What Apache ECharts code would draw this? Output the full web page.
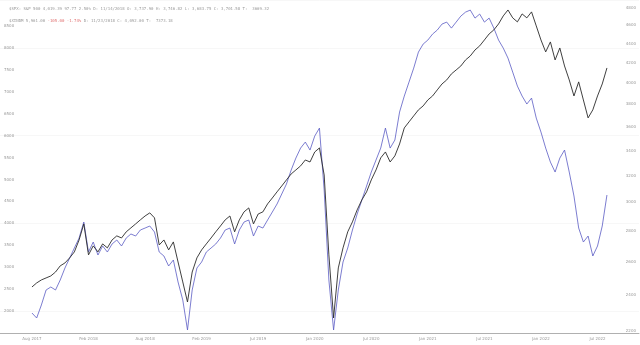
<!DOCTYPE html>
<html>
<head>
<meta charset="utf-8">
<script src="https://cdn.jsdelivr.net/npm/echarts@6/dist/echarts.min.js"></script>
<style>html,body{margin:0;padding:0;background:#fff}#c{width:640px;height:345px}</style>
</head>
<body>
<div id="c"></div>
<script>
// x-axis tick labels (every 6 units of the period index)
const xLabels = ['Aug 2017','Feb 2018','Aug 2018','Feb 2019','Jul 2019','Jan 2020','Jul 2020','Jan 2021','Jul 2021','Jan 2022','Jul 2022'];
const xLabelStep = 6;
const pointStep = 0.5; // half-month sampling
// left (linear) axis tick labels
const leftTicks = [2000,2500,3000,3500,4000,4500,5000,5500,6000,6500,7000,7500,8000,8500];
// right (log) axis tick labels
const rightTicks = [2200,2400,2600,2800,3000,3200,3400,3600,3800,4000,4200,4400,4600,4800];

// $SPX (black, right log axis)
const spx = [2446,2470,2488,2500,2512,2536,2574,2592,2624,2662,2740,2848,2643,2701,2662,2714,2688,2740,2767,2753,2794,2821,2848,2876,2903,2925,2890,2707,2740,2675,2727,2598,2476,2359,2536,2624,2675,2714,2753,2794,2834,2876,2903,2794,2876,2932,2960,2848,2917,2932,2989,3032,3077,3121,3167,3213,3244,3276,3323,3307,3388,3421,3205,2643,2270,2561,2688,2794,2862,2946,3018,3077,3167,3244,3340,3388,3307,3356,3454,3590,3643,3696,3750,3786,3841,3878,3935,3992,4031,4090,4129,4169,4230,4271,4333,4376,4439,4504,4548,4614,4704,4772,4682,4637,4727,4682,4750,4592,4439,4313,4418,4230,4354,4169,4031,3878,4012,3841,3678,3750,3878,3992,4149];
// $XINDM (blue, left linear axis)
const xindm = [1954,1840,2137,2479,2547,2479,2707,2980,3208,3436,3664,4029,3345,3573,3277,3482,3345,3528,3619,3482,3664,3756,3710,3847,3892,3938,3801,3345,3254,3026,3163,2661,2251,1567,2479,2980,3117,3345,3436,3528,3664,3847,3892,3528,3847,4029,4075,3710,3938,3892,4075,4257,4440,4668,4896,5215,5488,5716,5853,5671,5990,6172,4759,2707,1567,2479,3117,3436,3847,4212,4531,4850,5169,5443,5716,6172,5716,5899,6537,6902,7221,7540,7905,8088,8179,8316,8407,8544,8589,8452,8589,8726,8817,8863,8680,8772,8589,8680,8452,8179,7996,7768,7449,7130,6902,6720,6856,6400,6081,5716,5397,5169,5488,5671,5169,4622,3892,3573,3710,3254,3482,3938,4645];

const header1 = '$SPX: S&P 500 4,019.39 97.77 2.50% D: 11/14/2018 O: 3,737.90 H: 3,746.82 L: 3,683.75 C: 3,701.58 T:  3669.32';
const header2a = '$XINDM 5,961.00 ';
const header2b = '-105.00 -1.74%';
const header2c = ' D: 11/23/2018 C: 4,092.00 T:  7373.18';

const chart = echarts.init(document.getElementById('c'), null, {renderer:'canvas'});
const lbl = {fontSize:4, color:'#999', fontFamily:'DejaVu Sans'};
const hdr = {fontSize:4, fontFamily:'DejaVu Sans Mono'};
chart.setOption({
  animation:false,
  backgroundColor:'#fff',
  title:[{
    left:4, top:2,
    text: header1,
    textStyle:Object.assign({color:'#9a9a9a', fontWeight:'normal'}, hdr)
  },{
    left:4, top:14,
    text: '{a|'+header2a+'}{r|'+header2b+'}{a|'+header2c+'}',
    textStyle:Object.assign({fontWeight:'normal',
      rich:{a:Object.assign({color:'#9a9a9a'},hdr), r:Object.assign({color:'#e07070'},hdr)}}, hdr)
  }],
  grid:{left:0,right:1,top:0,bottom:12},
  xAxis:{
    type:'value', min:-3.39, max:64.4,
    axisLine:{show:true,lineStyle:{color:'#b0b0b0',width:1}},
    axisTick:{show:false},
    splitLine:{show:false},
    axisLabel:Object.assign({}, lbl, {margin:4,
      customValues: xLabels.map((_,i)=>i*xLabelStep),
      formatter:(v)=>xLabels[Math.round(v/xLabelStep)] || ''})
  },
  yAxis:[{
    type:'value', min:1498, max:9093, position:'left',
    axisLine:{show:false}, axisTick:{show:false},
    splitLine:{show:true,lineStyle:{color:'#f7f7f7',width:1}},
    axisLabel:Object.assign({}, lbl, {inside:true, margin:4, customValues:leftTicks, formatter:(v)=>String(Math.round(v))})
  },{
    type:'value', min:7.6912, max:8.4946, position:'right',
    axisLine:{show:false}, axisTick:{show:false}, splitLine:{show:false},
    axisLabel:Object.assign({}, lbl, {inside:true, margin:3,
      customValues:rightTicks.map(v=>Math.log(v)),
      formatter:(v)=>String(Math.round(Math.exp(v)/100)*100)})
  }],
  series:[{
    name:'$XINDM', type:'line', yAxisIndex:0, showSymbol:false,
    lineStyle:{color:'#5a5cc4', width:0.8},
    data: xindm.map((v,i)=>[i*pointStep, v])
  },{
    name:'$SPX', type:'line', yAxisIndex:1, showSymbol:false,
    lineStyle:{color:'#2a2a2a', width:0.9},
    data: spx.map((v,i)=>[i*pointStep, Math.log(v)])
  }]
});
</script>
</body>
</html>
